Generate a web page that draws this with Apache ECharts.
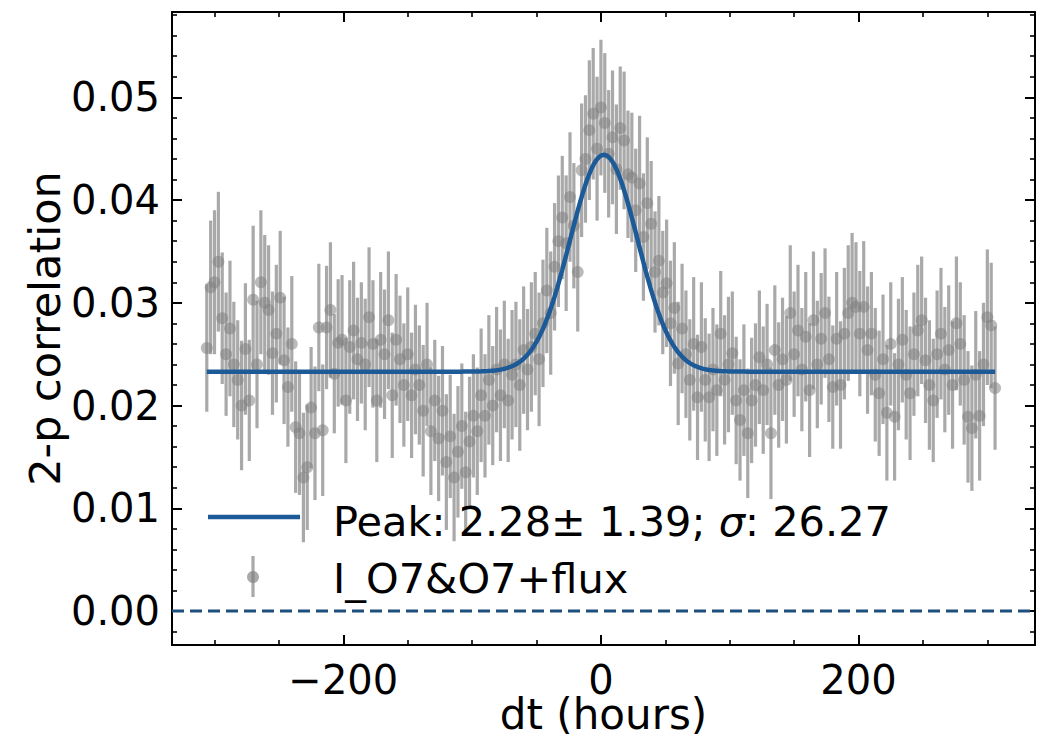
<!DOCTYPE html>
<html>
<head>
<meta charset="utf-8">
<script src="https://cdn.jsdelivr.net/npm/echarts@6/dist/echarts.min.js"></script>
<style>
  html, body { margin: 0; padding: 0; background: #fff; }
  #chart { width: 1046px; height: 734px; }
</style>
</head>
<body>
<div id="chart"></div>
<script>
// Lag grid (hours)
const dt = [
  -306,-303,-300,-297,-294,-291,-288,-285,-282,-279,
  -276,-273,-270,-267,-264,-261,-258,-255,-252,-249,
  -246,-243,-240,-237,-234,-231,-228,-225,-222,-219,
  -216,-213,-210,-207,-204,-201,-198,-195,-192,-189,
  -186,-183,-180,-177,-174,-171,-168,-165,-162,-159,
  -156,-153,-150,-147,-144,-141,-138,-135,-132,-129,
  -126,-123,-120,-117,-114,-111,-108,-105,-102,-99,
  -96,-93,-90,-87,-84,-81,-78,-75,-72,-69,
  -66,-63,-60,-57,-54,-51,-48,-45,-42,-39,
  -36,-33,-30,-27,-24,-21,-18,-15,-12,-9,
  -6,-3,0,3,6,9,12,15,18,21,
  24,27,30,33,36,39,42,45,48,51,
  54,57,60,63,66,69,72,75,78,81,
  84,87,90,93,96,99,102,105,108,111,
  114,117,120,123,126,129,132,135,138,141,
  144,147,150,153,156,159,162,165,168,171,
  174,177,180,183,186,189,192,195,198,201,
  204,207,210,213,216,219,222,225,228,231,
  234,237,240,243,246,249,252,255,258,261,
  264,267,270,273,276,279,282,285,288,291,
  294,297,300,303,306
];

// Two-point correlation at each lag
const corr = [
  0.0256,0.0315,0.0320,0.0340,0.0285,0.0250,0.0275,0.0240,0.0225,0.0200,
  0.0255,0.0205,0.0303,0.0240,0.0320,0.0300,0.0293,0.0251,0.0270,0.0305,
  0.0244,0.0218,0.0260,0.0179,0.0173,0.0130,0.0140,0.0198,0.0173,0.0276,
  0.0176,0.0276,0.0293,0.0231,0.0261,0.0264,0.0205,0.0257,0.0273,0.0245,
  0.0261,0.0240,0.0286,0.0260,0.0205,0.0264,0.0250,0.0283,0.0210,0.0264,
  0.0245,0.0220,0.0250,0.0210,0.0235,0.0220,0.0195,0.0240,0.0175,0.0205,
  0.0168,0.0195,0.0145,0.0170,0.0130,0.0155,0.0180,0.0135,0.0165,0.0190,
  0.0175,0.0210,0.0190,0.0225,0.0200,0.0235,0.0210,0.0240,0.0205,0.0230,
  0.0240,0.0220,0.0254,0.0235,0.0257,0.0270,0.0245,0.0280,0.0312,0.0290,
  0.0335,0.0360,0.0383,0.0358,0.0403,0.0375,0.0330,0.0429,0.0440,0.0468,
  0.0484,0.0450,0.0490,0.0475,0.0445,0.0461,0.0430,0.0470,0.0458,0.0425,
  0.0422,0.0390,0.0416,0.0364,0.0397,0.0377,0.0330,0.0341,0.0310,0.0319,
  0.0280,0.0295,0.0241,0.0275,0.0250,0.0225,0.0260,0.0208,0.0257,0.0225,
  0.0208,0.0235,0.0215,0.0270,0.0225,0.0240,0.0251,0.0205,0.0186,0.0215,
  0.0173,0.0205,0.0220,0.0247,0.0215,0.0240,0.0173,0.0254,0.0220,0.0245,
  0.0225,0.0290,0.0250,0.0273,0.0235,0.0267,0.0215,0.0283,0.0240,0.0265,
  0.0290,0.0245,0.0218,0.0265,0.0220,0.0270,0.0290,0.0300,0.0296,0.0270,
  0.0296,0.0254,0.0270,0.0230,0.0212,0.0245,0.0193,0.0260,0.0189,0.0240,
  0.0264,0.0230,0.0212,0.0250,0.0273,0.0283,0.0244,0.0220,0.0205,0.0250,
  0.0270,0.0235,0.0254,0.0220,0.0280,0.0260,0.0225,0.0189,0.0178,0.0230,
  0.0190,0.0240,0.0286,0.0278,0.0217
];

// 1-sigma uncertainty of each correlation value
const corrErr = [
  0.0062,0.0065,0.0070,0.0068,0.0064,0.0060,0.0066,0.0061,0.0058,0.0063,
  0.0064,0.0059,0.0072,0.0062,0.0070,0.0066,0.0063,0.0060,0.0067,0.0065,
  0.0062,0.0058,0.0066,0.0064,0.0060,0.0063,0.0061,0.0059,0.0065,0.0062,
  0.0064,0.0060,0.0066,0.0058,0.0062,0.0063,0.0061,0.0065,0.0067,0.0060,
  0.0059,0.0064,0.0068,0.0062,0.0060,0.0066,0.0063,0.0067,0.0061,0.0064,
  0.0062,0.0060,0.0065,0.0061,0.0063,0.0058,0.0064,0.0060,0.0062,0.0059,
  0.0061,0.0063,0.0066,0.0060,0.0062,0.0064,0.0061,0.0059,0.0063,0.0060,
  0.0062,0.0065,0.0060,0.0063,0.0058,0.0061,0.0064,0.0062,0.0060,0.0063,
  0.0061,0.0064,0.0062,0.0059,0.0063,0.0060,0.0065,0.0062,0.0061,0.0060,
  0.0062,0.0064,0.0060,0.0066,0.0063,0.0061,0.0058,0.0065,0.0062,0.0068,
  0.0064,0.0070,0.0066,0.0068,0.0062,0.0065,0.0063,0.0060,0.0067,0.0062,
  0.0063,0.0060,0.0066,0.0062,0.0064,0.0061,0.0059,0.0063,0.0060,0.0062,
  0.0061,0.0064,0.0060,0.0063,0.0062,0.0059,0.0065,0.0061,0.0063,0.0060,
  0.0062,0.0060,0.0064,0.0061,0.0063,0.0066,0.0060,0.0062,0.0059,0.0064,
  0.0063,0.0061,0.0060,0.0065,0.0062,0.0059,0.0064,0.0063,0.0061,0.0060,
  0.0062,0.0066,0.0061,0.0064,0.0060,0.0063,0.0065,0.0067,0.0062,0.0064,
  0.0063,0.0061,0.0060,0.0065,0.0062,0.0064,0.0066,0.0068,0.0063,0.0061,
  0.0064,0.0062,0.0060,0.0065,0.0061,0.0063,0.0066,0.0060,0.0062,0.0064,
  0.0061,0.0063,0.0065,0.0060,0.0064,0.0062,0.0061,0.0063,0.0060,0.0062,
  0.0064,0.0061,0.0063,0.0062,0.0065,0.0060,0.0063,0.0064,0.0061,0.0062,
  0.0063,0.0060,0.0066,0.0061,0.0060
];

// Gaussian-plus-constant fit: peak centre and width as quoted in the legend
const fitPeak = 2.28;
const fitPeakErr = 1.39;
const fitSigma = 26.27;
const fitBase = 0.0233;
const fitAmp = 0.0211;

// Axis extents and tick positions
const xRange = [-333, 337];
const yRange = [-0.0033, 0.0583];
const xMajor = [-200, 0, 200];
const xMinor = [-300, -250, -150, -100, -50, 50, 100, 150, 250, 300];
const yMajor = [0, 0.01, 0.02, 0.03, 0.04, 0.05];
const yMinor = [-0.002, 0.002, 0.004, 0.006, 0.008, 0.012, 0.014, 0.016, 0.018,
  0.022, 0.024, 0.026, 0.028, 0.032, 0.034, 0.036, 0.038, 0.042, 0.044, 0.046,
  0.048, 0.052, 0.054, 0.056, 0.058];

const seriesName = 'I_O7&O7+flux';
const xTitle = 'dt (hours)';
const yTitle = '2-p correlation';

// ---------------------------------------------------------------
const FONT = 'DejaVu Sans';
const FIT_COLOR = '#1d5a98';
const PT_COLOR = 'rgba(128,128,128,0.68)';

const points = dt.map((x, i) => [x, corr[i], corrErr[i]]);

const fitCurve = [];
for (let x = dt[0]; x <= dt[dt.length - 1]; x += 1) {
  const u = (x - fitPeak) / fitSigma;
  fitCurve.push([x, fitBase + fitAmp * Math.exp(-0.5 * u * u)]);
}

const minus = v => String(v).replace('-', '\u2212');

function mainX(pos, withLabels) {
  return {
    type: 'value', min: xRange[0], max: xRange[1], position: pos,
    axisLine: { show: true, onZero: false, lineStyle: { color: '#000', width: 2 } },
    axisTick: { show: true, inside: true, length: 10, customValues: xMajor,
      lineStyle: { color: '#000', width: 2 } },
    axisLabel: withLabels ? {
      show: true, customValues: xMajor, formatter: v => minus(v),
      fontSize: 40, lineHeight: 34, fontFamily: FONT, color: '#000', margin: 18
    } : { show: false },
    splitLine: { show: false },
    name: withLabels ? xTitle : '',
    nameLocation: 'middle', nameGap: 52, nameMoveOverlap: false,
    nameTextStyle: { fontSize: 42, lineHeight: 34, fontFamily: FONT, color: '#000' }
  };
}
function minorX(pos) {
  return {
    type: 'value', min: xRange[0], max: xRange[1], position: pos,
    axisLine: { show: false, onZero: false },
    axisTick: { show: true, inside: true, length: 5, customValues: xMinor,
      lineStyle: { color: '#000', width: 1.6 } },
    axisLabel: { show: false }, splitLine: { show: false }
  };
}
function mainY(pos, withLabels) {
  return {
    type: 'value', min: yRange[0], max: yRange[1], position: pos,
    axisLine: { show: true, onZero: false, lineStyle: { color: '#000', width: 2 } },
    axisTick: { show: true, inside: true, length: 10, customValues: yMajor,
      lineStyle: { color: '#000', width: 2 } },
    axisLabel: withLabels ? {
      show: true, customValues: yMajor, formatter: v => v.toFixed(2),
      fontSize: 40, fontFamily: FONT, color: '#000', margin: 12
    } : { show: false },
    splitLine: { show: false },
    name: withLabels ? yTitle : '',
    nameLocation: 'middle', nameGap: 106, nameMoveOverlap: false,
    nameTextStyle: { fontSize: 43, fontFamily: FONT, color: '#000' }
  };
}
function minorY(pos) {
  return {
    type: 'value', min: yRange[0], max: yRange[1], position: pos,
    axisLine: { show: false, onZero: false },
    axisTick: { show: true, inside: true, length: 5, customValues: yMinor,
      lineStyle: { color: '#000', width: 1.6 } },
    axisLabel: { show: false }, splitLine: { show: false }
  };
}

const chart = echarts.init(document.getElementById('chart'), null, { renderer: 'svg' });

const legendText = `{a|Peak: ${fitPeak.toFixed(2)}\u00b1 ${fitPeakErr.toFixed(2)}; }{s|\u03c3}{a|: ${fitSigma.toFixed(2)}}`;

chart.setOption({
  animation: false,
  backgroundColor: '#fff',
  grid: { left: 172, right: 11, top: 12, bottom: 89, outerBoundsMode: 'none', containLabel: false },
  xAxis: [mainX('bottom', true), minorX('bottom'), mainX('top', false), minorX('top')],
  yAxis: [mainY('left', true), minorY('left'), mainY('right', false), minorY('right')],
  series: [
    {
      // vertical error bars
      type: 'custom', name: seriesName, xAxisIndex: 0, yAxisIndex: 0,
      data: points, clip: true, z: 2,
      renderItem: function (params, api) {
        const x = api.value(0), y = api.value(1), e = api.value(2);
        const top = api.coord([x, y + e]);
        const bot = api.coord([x, y - e]);
        return {
          type: 'line',
          shape: { x1: top[0], y1: top[1], x2: bot[0], y2: bot[1] },
          style: { stroke: PT_COLOR, lineWidth: 3.2 }
        };
      }
    },
    {
      type: 'scatter', name: seriesName, xAxisIndex: 0, yAxisIndex: 0,
      data: points.map(p => [p[0], p[1]]),
      symbol: 'circle', symbolSize: 12, z: 3,
      itemStyle: { color: PT_COLOR }
    },
    {
      type: 'line', name: 'fit', xAxisIndex: 0, yAxisIndex: 0,
      data: fitCurve, showSymbol: false, z: 5,
      lineStyle: { color: FIT_COLOR, width: 4.5 }
    },
    {
      type: 'line', name: 'zero', xAxisIndex: 0, yAxisIndex: 0,
      data: [[xRange[0], 0], [xRange[1], 0]], showSymbol: false, z: 4,
      lineStyle: { color: '#1f4f7c', width: 3, type: [12, 6] }
    }
  ],
  graphic: [
    {
      type: 'line', shape: { x1: 208, y1: 517, x2: 300, y2: 517 },
      style: { stroke: FIT_COLOR, lineWidth: 4.5 }, z: 10
    },
    {
      type: 'text', x: 333, y: 521, z: 10,
      style: {
        text: legendText, verticalAlign: 'middle', align: 'left',
        rich: {
          a: { fontSize: 41.5, fontFamily: FONT, fill: '#000' },
          s: { fontSize: 41.5, fontFamily: FONT, fontStyle: 'italic', fill: '#000' }
        }
      }
    },
    {
      type: 'line', shape: { x1: 253, y1: 556, x2: 253, y2: 597 },
      style: { stroke: PT_COLOR, lineWidth: 3.2 }, z: 10
    },
    {
      type: 'circle', shape: { cx: 253, cy: 577, r: 6 },
      style: { fill: PT_COLOR }, z: 10
    },
    {
      type: 'text', x: 333, y: 578, z: 10,
      style: { text: seriesName, verticalAlign: 'middle', align: 'left',
        fontSize: 41.5, fontFamily: FONT, fill: '#000' }
    }
  ]
});
</script>
</body>
</html>
